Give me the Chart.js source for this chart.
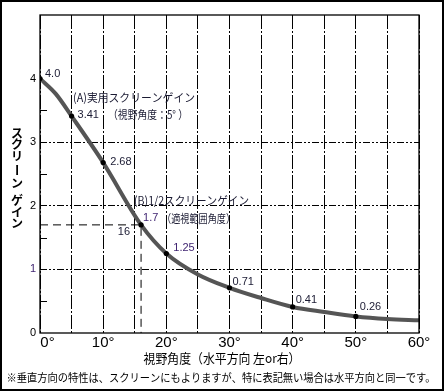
<!DOCTYPE html>
<html><head><meta charset="utf-8">
<script src="https://cdn.jsdelivr.net/npm/chart.js@4/dist/chart.umd.min.js"></script>
<style>html,body{margin:0;padding:0;background:#fff;}canvas{display:block;}</style>
</head><body>
<canvas id="c" width="445" height="392"></canvas>
<script>
// ---- data ----
const angles = [0, 2.5, 5, 10, 16, 20, 25, 30, 35, 40, 45, 50, 55, 60];
const gains  = [4.0, 3.76, 3.41, 2.68, 1.7, 1.25, 0.92, 0.71, 0.55, 0.41, 0.33, 0.26, 0.22, 0.2];
const markedAngles = [0, 5, 10, 16, 20, 30, 40, 50];
const markedGains  = [4.0, 3.41, 2.68, 1.7, 1.25, 0.71, 0.41, 0.26];
const markedLabels = ['4.0', '3.41', '2.68', '1.7', '1.25', '0.71', '0.41', '0.26'];
const refX = [0, 16, 16];
const refY = [1.7, 1.7, 0];
const refLabel = '16';
const xTickValues = [0, 10, 20, 30, 40, 50, 60];
const yTickValues = [0, 1, 2, 3, 4];
const yTitle = 'スクリーン ゲイン';
const xTitle = '視野角度（水平方向 左or右）';
const footnote = '※垂直方向の特性は、スクリーンにもよりますが、特に表記無い場合は水平方向と同一です。';
const noteA1 = '(A)実用スクリーンゲイン';
const noteA2 = '（視野角度：5° ）';
const noteB1 = '(B)1/2スクリーンゲイン';
const noteB2 = '（適視範囲角度）';

const FONT = '"Liberation Sans", Arial, "Noto Sans CJK JP", sans-serif';
const JFONT = '"Noto Sans CJK JP", "Liberation Sans", sans-serif';
const PURPLE = '#3b1f6e';
const INK = '#1b1b33';

const labelOffsets = [[5,-5],[6,-1],[7,-1],[2,-7],[7,-6],[3,-6],[3,-7],[4,-9]];
const labelColors = [INK, INK, INK, PURPLE, PURPLE, INK, INK, INK];

function drawFit(ctx, text, x, y, font, target, align) {
  ctx.font = font;
  const w = ctx.measureText(text).width;
  const sx = target ? target / w : 1;
  ctx.save();
  ctx.textAlign = align || 'left';
  ctx.translate(x, y);
  ctx.scale(sx, 1);
  ctx.fillText(text, 0, 0);
  ctx.restore();
}

const decor = {
  id: 'decor',
  beforeDraw(chart) {
    const ctx = chart.ctx;
    ctx.save();
    ctx.fillStyle = '#fff';
    ctx.fillRect(0, 0, chart.width, chart.height);
    ctx.restore();
  },
  afterDatasetsDraw(chart) {
    const ctx = chart.ctx, xs = chart.scales.x, ys = chart.scales.y, a = chart.chartArea;
    ctx.save();
    // inner minor ticks
    ctx.strokeStyle = '#000'; ctx.lineWidth = 1; ctx.setLineDash([]);
    [0.5, 1.5, 2.5, 3.5].forEach(v => {
      const y = Math.round(ys.getPixelForValue(v)) + 0.5;
      ctx.beginPath(); ctx.moveTo(a.left, y); ctx.lineTo(a.left + 7, y); ctx.stroke();
    });
    // plot frame
    ctx.lineWidth = 1.3;
    ctx.strokeRect(a.left, a.top, a.right - a.left, a.bottom - a.top);
    // data labels
    ctx.textBaseline = 'middle'; ctx.textAlign = 'left';
    ctx.font = '11px ' + FONT;
    markedAngles.forEach((ang, i) => {
      const px = xs.getPixelForValue(ang), py = ys.getPixelForValue(markedGains[i]);
      ctx.fillStyle = labelColors[i];
      ctx.fillText(markedLabels[i], px + labelOffsets[i][0], py + labelOffsets[i][1]);
    });
    // reference label
    ctx.fillStyle = INK;
    ctx.textAlign = 'right';
    ctx.fillText(refLabel, xs.getPixelForValue(refX[1]) - 11, ys.getPixelForValue(refY[1]) + 7);
    // annotations
    ctx.fillStyle = INK;
    drawFit(ctx, noteA1, 73, 97.5, '11.5px ' + JFONT, 122);
    drawFit(ctx, noteA2, 108, 115, '11.5px ' + JFONT, 80);
    drawFit(ctx, noteB1, 134, 201, '11.5px ' + JFONT, 115);
    drawFit(ctx, noteB2, 162, 219, '11.5px ' + JFONT, 73);
    ctx.restore();
  },
  afterDraw(chart) {
    const ctx = chart.ctx;
    ctx.save();
    ctx.fillStyle = '#000'; ctx.textBaseline = 'middle'; ctx.textAlign = 'center';
    // y title vertical
    ctx.font = 'bold 12px ' + JFONT;
    const ys = [133, 144.5, 156.5, 170, 183, 192, 200, 212.5, 223];
    [...yTitle].forEach((ch, i) => {
      if (ch === ' ') return;
      if (ch === 'ー') {
        ctx.save(); ctx.translate(17, ys[i]); ctx.rotate(Math.PI / 2);
        ctx.fillText(ch, 0, 0); ctx.restore();
      } else {
        ctx.fillText(ch, 17, ys[i]);
      }
    });
    // x title
    drawFit(ctx, xTitle, 222, 358, '13px ' + JFONT, 157, 'center');
    // footnote
    drawFit(ctx, footnote, 221, 377.5, '11px ' + JFONT, 429, 'center');
    // outer frame
    ctx.lineWidth = 2; ctx.strokeStyle = '#000';
    ctx.strokeRect(1, 1, 442, 389);
    ctx.restore();
  }
};

new Chart(document.getElementById('c'), {
  type: 'line',
  data: {
    datasets: [
      {
        data: angles.map((a, i) => ({x: a, y: gains[i]})),
        borderColor: '#555555',
        borderWidth: 4,
        cubicInterpolationMode: 'monotone',
        pointRadius: 0,
        fill: false,
        order: 2
      },
      {
        data: markedAngles.map((a, i) => ({x: a, y: markedGains[i]})),
        showLine: false,
        pointRadius: 2.6,
        pointBackgroundColor: '#000',
        pointBorderWidth: 0,
        order: 1
      },
      {
        data: refX.map((a, i) => ({x: a, y: refY[i]})),
        borderColor: '#000',
        borderWidth: 1,
        borderDash: [8, 5],
        pointRadius: 0,
        tension: 0,
        fill: false,
        order: 3
      }
    ]
  },
  options: {
    responsive: false,
    animation: false,
    layout: { padding: { left: 0, right: 26, top: 15, bottom: 0 } },
    plugins: { legend: { display: false }, tooltip: { enabled: false } },
    scales: {
      x: {
        type: 'linear', min: 0, max: 60,
        afterFit(s) { s.height = 59; },
        afterBuildTicks(s) { s.ticks = []; for (let v = 0; v <= 60; v += 5) s.ticks.push({value: v}); },
        ticks: {
          autoSkip: false, maxRotation: 0, padding: 1,
          color: '#000',
          font: { family: FONT, size: 15 },
          callback: v => xTickValues.includes(v) ? (v === 0 ? '\u2002\u20020°' : v + '°') : ''
        },
        grid: { color: '#000', lineWidth: 1, drawTicks: false },
        border: { display: false, dash: [14, 2, 2, 2] }
      },
      y: {
        type: 'linear', min: 0, max: 5,
        afterFit(s) { s.width = 40; },
        afterBuildTicks(s) { s.ticks = []; for (let v = 0; v <= 5; v += 1) s.ticks.push({value: v}); },
        ticks: {
          autoSkip: false, padding: 4,
          color: c => c.tick && c.tick.value === 1 ? PURPLE : '#000',
          font: { family: FONT, size: 11 },
          callback: v => yTickValues.includes(v) ? String(v) : ''
        },
        grid: {
          drawTicks: false, lineWidth: 1,
          color: c => (c.tick && [1, 2, 3].includes(c.tick.value)) ? '#000' : 'rgba(0,0,0,0)'
        },
        border: { display: false, dash: [7, 2, 2, 2, 2, 2] }
      }
    }
  },
  plugins: [decor]
});
</script>
</body></html>
